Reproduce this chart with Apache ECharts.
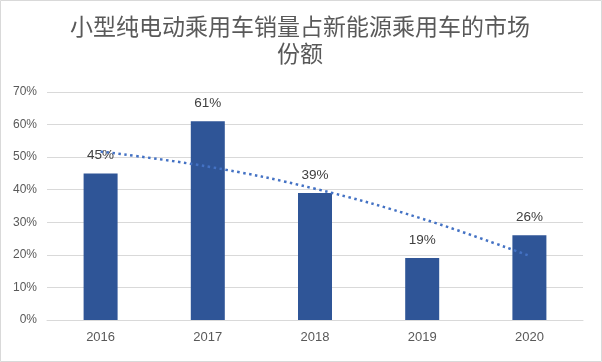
<!DOCTYPE html>
<html><head><meta charset="utf-8">
<script src="https://cdn.jsdelivr.net/npm/echarts@6/dist/echarts.min.js"></script>
<style>html,body{margin:0;padding:0;background:#fff}#c{width:602px;height:362px}</style>
</head><body><div id="c"></div>
<script>
const categories = ['2016','2017','2018','2019','2020'];
const shareValues = [45, 61, 39, 19, 26];
const trendValues = [51.7, 47.1, 40.3, 31.1, 19.7];
const yTicks = [0, 10, 20, 30, 40, 50, 60, 70];
const titleText = '小型纯电动乘用车销量占新能源乘用车的市场\n份额';

const chart = echarts.init(document.getElementById('c'), null, {renderer: 'canvas'});
chart.setOption({
  animation: false,
  backgroundColor: '#fff',
  graphic: [
    {type: 'rect', shape: {x: 0.5, y: 0.5, width: 601, height: 361}, style: {fill: 'none', stroke: '#d9d9d9', lineWidth: 1}, z: -1},
    {type: 'text', x: 300, y: 13, style: {text: titleText, align: 'center', verticalAlign: 'top', font: '23px "Noto Sans CJK SC"', fill: '#595959', lineHeight: 27}}
  ],
  grid: {left: 47, right: 19, top: 92, bottom: 42},
  xAxis: {
    type: 'category', data: categories,
    axisLine: {lineStyle: {color: '#d9d9d9'}}, axisTick: {show: false},
    axisLabel: {color: '#595959', fontSize: 13, margin: 11, fontFamily: 'Liberation Sans'}
  },
  yAxis: {
    type: 'value', min: yTicks[0], max: yTicks[yTicks.length - 1], interval: 10,
    axisLine: {show: false}, axisTick: {show: false},
    splitLine: {lineStyle: {color: '#d9d9d9'}},
    axisLabel: {color: '#595959', fontSize: 12, margin: 10, fontFamily: 'Liberation Sans', formatter: v => v + '%'}
  },
  series: [
    {
      type: 'bar', data: shareValues, barWidth: 34,
      itemStyle: {color: '#2F5597'},
      label: {show: true, position: 'top', distance: 11, color: '#404040', fontSize: 13.5, fontFamily: 'Liberation Sans', formatter: p => p.value + '%'}
    },
    {
      type: 'line', data: trendValues, smooth: 0.4, symbol: 'none', z: 5,
      lineStyle: {color: '#4472C4', width: 2.5, type: [2.5, 3.5]}
    }
  ]
});
</script></body></html>
